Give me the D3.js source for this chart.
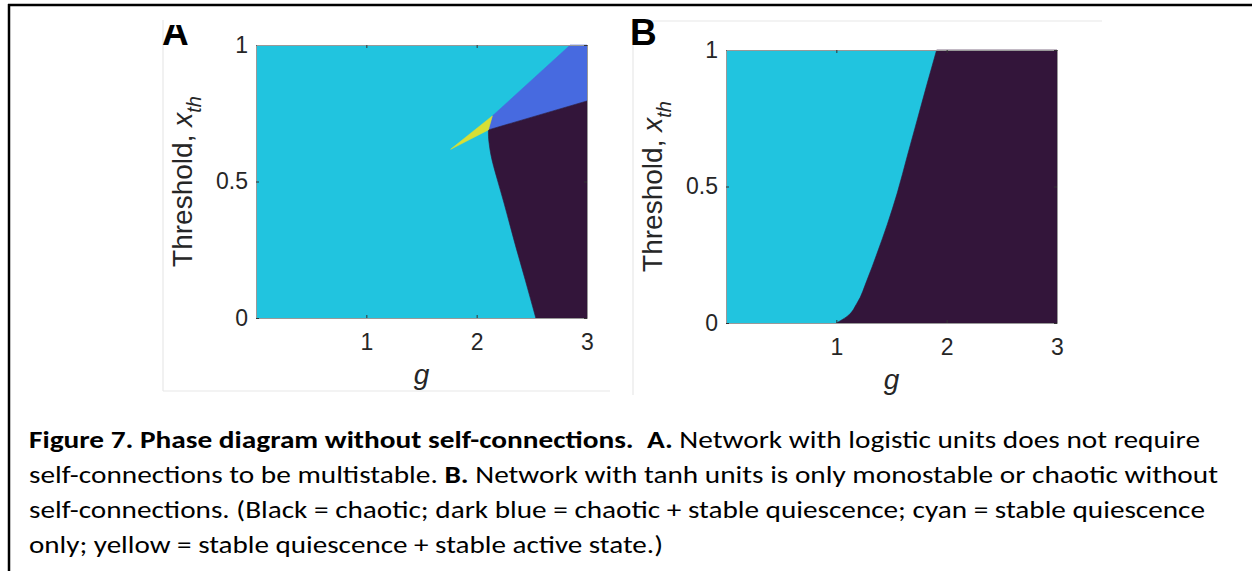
<!DOCTYPE html>
<html lang="en">
<head>
<meta charset="utf-8">
<title>Figure 7</title>
<script src="https://d3js.org/d3.v7.min.js"></script>
<style>
  body { margin: 0; background: #fff; }
  svg { display: block; }
  .axis text { font-family: "Liberation Sans", Arial, sans-serif; font-size: 23px; fill: #262626; }
  .axis line { stroke: #333; }
  .alabel { font-family: "Liberation Sans", Arial, sans-serif; font-size: 28px; fill: #262626; }
  .plabel { font-family: "Liberation Sans", Arial, sans-serif; font-size: 37px; font-weight: bold; fill: #000; }
  .caption { font-family: Carlito, Calibri, Lato, sans-serif; font-size: 25px; fill: #000; white-space: pre; }
</style>
</head>
<body>
<svg id="fig" width="1252" height="571"></svg>
<script>
// axes
const gDomain = [0, 3];
const thDomain = [0, 1];
const gTicks = [1, 2, 3];
const thTicks = [0, 0.5, 1];

// region outlines, points are [g, threshold]
// "edge" is a smooth boundary, "corners" are straight runs along the box
const A_quiescentCorners = [[0, 0], [0, 1], [3, 1], [3, 0]];
const A_chaoticQuiescentCorners = [[2.142, 0.740], [2.848, 1], [3, 1], [3, 0.795], [2.106, 0.689]];
const A_chaoticEdge = [[2.536, 0], [2.440, 0.140], [2.346, 0.274], [2.248, 0.421], [2.188, 0.506],
  [2.154, 0.555], [2.128, 0.600], [2.113, 0.640], [2.107, 0.665], [2.106, 0.689]];
const A_chaoticCorners = [[3, 0.795], [3, 0]];
const A_bistableCorners = [[1.764, 0.618], [2.142, 0.740], [2.106, 0.689]];

const B_quiescentCorners = [[0, 0], [0, 1], [3, 1], [3, 0]];
const B_chaoticEdge = [[1.0, 0], [1.097, 0.024], [1.188, 0.073], [1.279, 0.158], [1.370, 0.256],
  [1.461, 0.360], [1.552, 0.476], [1.642, 0.610], [1.733, 0.744], [1.824, 0.878], [1.909, 1]];
const B_chaoticCorners = [[3, 1], [3, 0]];

const stateColor = {
  quiescent: "#21c4df",
  chaoticQuiescent: "#476ae0",
  chaotic: "#33153a",
  bistable: "#d7df35"
};

const captionLines = [
  [["Figure 7. Phase diagram without self-connections.  A.", true], [" Network with logistic units does not require", false]],
  [["self-connections to be multistable. ", false], ["B.", true], [" Network with tanh units is only monostable or chaotic without", false]],
  [["self-connections. (Black = chaotic; dark blue = chaotic + stable quiescence; cyan = stable quiescence", false]],
  [["only; yellow = stable quiescence + stable active state.)", false]]
];
const captionEnds = [1200, 1218, 1205, 663];

const panels = [
  { id: "A", left: 256, right: 587, top: 45, bottom: 318,
    regions: [
      { state: "quiescent", edge: [], corners: A_quiescentCorners },
      { state: "chaoticQuiescent", edge: [], corners: A_chaoticQuiescentCorners },
      { state: "chaotic", edge: A_chaoticEdge, corners: A_chaoticCorners },
      { state: "bistable", edge: [], corners: A_bistableCorners }
    ] },
  { id: "B", left: 726, right: 1057, top: 50, bottom: 323,
    regions: [
      { state: "quiescent", edge: [], corners: B_quiescentCorners },
      { state: "chaotic", edge: B_chaoticEdge, corners: B_chaoticCorners }
    ] }
];

const svg = d3.select("#fig");

// faint edges of the pasted panel images
const edge = svg.append("g").attr("stroke", "#e8e8e8").attr("stroke-width", 1.2);
edge.append("line").attr("x1", 163).attr("y1", 20).attr("x2", 163).attr("y2", 391);
edge.append("line").attr("x1", 163).attr("y1", 391).attr("x2", 610).attr("y2", 391);
edge.append("line").attr("x1", 633).attr("y1", 21).attr("x2", 1102).attr("y2", 21);
edge.append("line").attr("x1", 633).attr("y1", 21).attr("x2", 633).attr("y2", 395);

// figure frame
svg.append("line").attr("x1", 8).attr("y1", 5).attr("x2", 1252).attr("y2", 5)
  .attr("stroke", "#000").attr("stroke-width", 2.5);
svg.append("line").attr("x1", 9).attr("y1", 4).attr("x2", 9).attr("y2", 571)
  .attr("stroke", "#000").attr("stroke-width", 2.5);

svg.append("clipPath").attr("id", "clipA")
  .append("rect").attr("x", 150).attr("y", 25).attr("width", 100).attr("height", 40);

panels.forEach(function(p) {
  const x = d3.scaleLinear().domain(gDomain).range([p.left, p.right]);
  const y = d3.scaleLinear().domain(thDomain).range([p.bottom, p.top]);

  function regionPath(r) {
    const ctx = d3.path();
    if (r.edge.length) {
      d3.line().x(d => x(d[0])).y(d => y(d[1])).curve(d3.curveMonotoneY).context(ctx)(r.edge);
      r.corners.forEach(c => ctx.lineTo(x(c[0]), y(c[1])));
    } else {
      r.corners.forEach((c, i) => i ? ctx.lineTo(x(c[0]), y(c[1])) : ctx.moveTo(x(c[0]), y(c[1])));
    }
    ctx.closePath();
    return ctx.toString();
  }

  const g = svg.append("g").attr("class", "panel");

  g.selectAll("path.region").data(p.regions).join("path")
    .attr("class", "region")
    .attr("d", regionPath)
    .attr("fill", d => stateColor[d.state])
    .attr("stroke", d => d.state == "quiescent" ? "none" : stateColor[d.state])
    .attr("stroke-width", 0.6);

  g.append("g").attr("class", "axis")
    .attr("transform", `translate(0,${p.bottom})`)
    .call(d3.axisBottom(x).tickValues(gTicks).tickSize(-3).tickSizeOuter(0)
      .tickPadding(16).tickFormat(d3.format("~g")));
  g.append("g").attr("class", "axis")
    .attr("transform", `translate(${p.left},0)`)
    .call(d3.axisLeft(y).tickValues(thTicks).tickSize(-3).tickSizeOuter(0)
      .tickPadding(8).tickFormat(d3.format("~g")));
  g.append("g").attr("class", "axis")
    .attr("transform", `translate(0,${p.top})`)
    .call(d3.axisTop(x).tickValues(gTicks).tickSize(-3).tickSizeOuter(0).tickFormat(""));
  g.append("g").attr("class", "axis")
    .attr("transform", `translate(${p.right},0)`)
    .call(d3.axisRight(y).tickValues(thTicks).tickSize(-3).tickSizeOuter(0).tickFormat(""));
  g.selectAll(".axis .domain").attr("stroke", "#999");

  g.append("text").attr("class", "alabel")
    .attr("x", (p.left + p.right) / 2).attr("y", p.bottom + 66)
    .attr("text-anchor", "middle").attr("font-style", "italic")
    .text("g");

  const yl = g.append("text").attr("class", "alabel")
    .attr("transform", `translate(${p.left - 64},${(p.top + p.bottom) / 2}) rotate(-90)`)
    .attr("text-anchor", "middle");
  yl.append("tspan").text("Threshold, ");
  yl.append("tspan").attr("font-style", "italic").text("x");
  yl.append("tspan").attr("font-style", "italic").attr("font-size", 20).attr("dy", 9).text("th");

  const lab = g.append("text").attr("class", "plabel")
    .attr("x", p.id == "A" ? 162 : 630).attr("y", 45)
    .text(p.id);
  if (p.id == "A") lab.attr("clip-path", "url(#clipA)");
});

// caption
const cap = svg.append("g");
captionLines.forEach(function(segs, i) {
  const t = cap.append("text").attr("class", "caption")
    .attr("x", 29).attr("y", 448 + i * 35)
    .attr("textLength", captionEnds[i] - 29)
    .attr("lengthAdjust", "spacingAndGlyphs");
  segs.forEach(function(s) {
    t.append("tspan").attr("font-weight", s[1] ? "bold" : "normal").text(s[0]);
  });
});
</script>
</body>
</html>
